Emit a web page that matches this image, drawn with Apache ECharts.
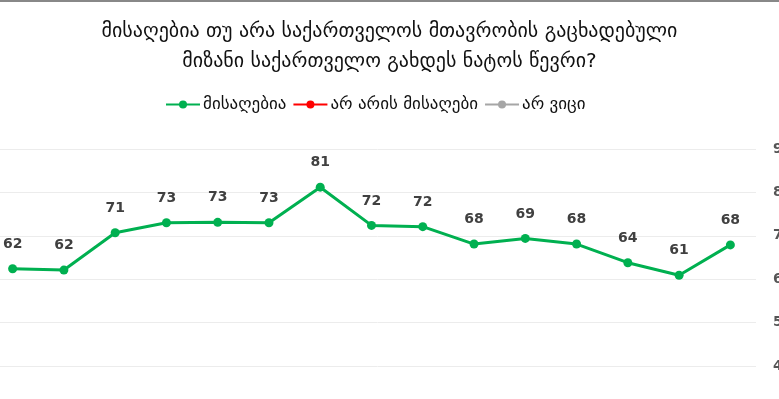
<!DOCTYPE html>
<html><head><meta charset="utf-8">
<script src="https://cdn.jsdelivr.net/npm/echarts@6/dist/echarts.min.js"></script>
<style>html,body{margin:0;padding:0;background:#fff}#c{width:779px;height:399px}</style>
</head><body><div id="c"></div>
<script>
const titleLines = ["მისაღებია თუ არა საქართველოს მთავრობის გაცხადებული", "მიზანი საქართველო გახდეს ნატოს წევრი?"];
const categories = ["1","2","3","4","5","6","7","8","9","10","11","12","13","14","15"];
const acceptable = [62.4, 62.1, 70.7, 73.0, 73.1, 73.0, 81.2, 72.4, 72.1, 68.1, 69.4, 68.1, 63.8, 60.9, 67.9];
const notAcceptable = [];
const dontKnow = [];
const seriesNames = ["მისაღებია", "არ არის მისაღები", "არ ვიცი"];
const yTicks = {min: 40, max: 90, interval: 10};

const chart = echarts.init(document.getElementById('c'));
const font = "'DejaVu Sans', sans-serif";
chart.setOption({
  animation: false,
  title: {
    text: titleLines.join('\n'), left: 'center', top: 12,
    textStyle: {fontFamily: font, fontSize: 20, fontWeight: 'normal', color: '#111', lineHeight: 30}
  },
  graphic: [{type: 'rect', shape: {x: 0, y: 0, width: 779, height: 2}, style: {fill: '#888'}}],
  legend: {
    top: 91, left: 160, itemGap: 6, itemWidth: 34, itemHeight: 10,
    textStyle: {fontFamily: font, fontSize: 17, color: '#111', padding: [0, 0, 0, -2]},
    data: seriesNames
  },
  grid: {left: -13, right: 23, top: 149, bottom: 33, outerBoundsMode: 'none', containLabel: false},
  xAxis: {
    type: 'category', data: categories, boundaryGap: true,
    axisLine: {show: false}, axisTick: {show: false}, axisLabel: {show: false}
  },
  yAxis: {
    type: 'value', position: 'right', min: yTicks.min, max: yTicks.max, interval: yTicks.interval,
    axisLine: {show: false}, axisTick: {show: false},
    splitLine: {lineStyle: {color: '#ececec', width: 1}},
    axisLabel: {margin: 17, fontFamily: font, fontSize: 14, fontWeight: 'bold', color: '#555'}
  },
  series: [
    {name: seriesNames[0], type: 'line', data: acceptable, color: '#00B050',
     symbol: 'circle', symbolSize: 9, lineStyle: {width: 3},
     label: {show: true, position: 'top', distance: 13, fontFamily: font, fontSize: 14, fontWeight: 'bold', color: '#404040',
       formatter: p => Math.round(p.value)}},
    {name: seriesNames[1], type: 'line', data: notAcceptable, color: '#FF0000', symbol: 'circle', symbolSize: 9, lineStyle: {width: 3}},
    {name: seriesNames[2], type: 'line', data: dontKnow, color: '#A6A6A6', symbol: 'circle', symbolSize: 9, lineStyle: {width: 3}}
  ]
});
</script></body></html>
